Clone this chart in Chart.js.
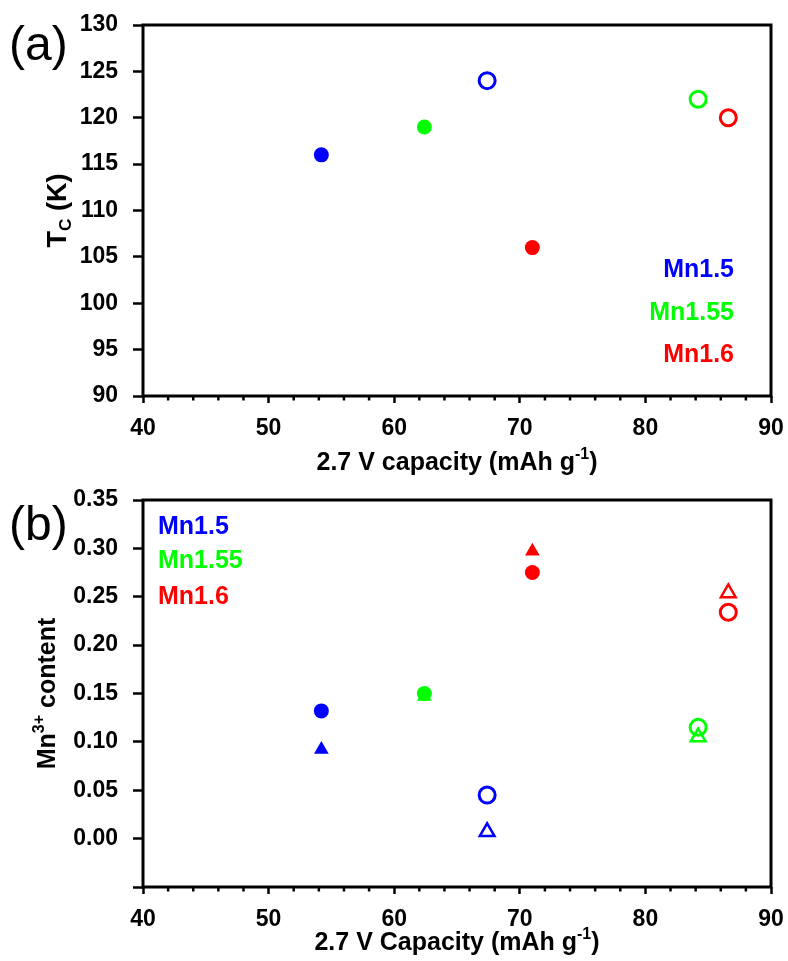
<!DOCTYPE html>
<html>
<head>
<meta charset="utf-8">
<script src="https://cdn.jsdelivr.net/npm/chart.js@4"></script>
<style>
  html, body { margin: 0; padding: 0; background: #fff; overflow: hidden; }
  #wrap { position: relative; width: 788px; height: 961px; overflow: hidden; }
  .box { position: absolute; left: 0; width: 797px; }
  #boxA { top: -10px; height: 490px; }
  #boxB { top: 465px; height: 496px; }
</style>
</head>
<body>
<div id="wrap">
  <div class="box" id="boxA"><canvas id="chartA"></canvas></div>
  <div class="box" id="boxB"><canvas id="chartB"></canvas></div>
</div>
<script>
const samples = ['Mn1.5', 'Mn1.55', 'Mn1.6'];
const colors = ['#0000ff', '#00ff00', '#ff0000'];

// 2.7 V capacity (mAh g-1)
const capFilled = [54.2, 62.4, 71.0];
const capOpen = [67.4, 84.2, 86.6];

// (a) Tc (K)
const tcFilled = [116, 119, 106];
const tcOpen = [124, 122, 120];

// (b) Mn3+ content
const mnCircleFilled = [0.132, 0.150, 0.275];
const mnTriFilled = [0.092, 0.147, 0.297];
const mnCircleOpen = [0.045, 0.115, 0.234];
const mnTriOpen = [0.007, 0.105, 0.254];

const FONT = '"Liberation Sans", Arial, sans-serif';

function pts(xs, ys) {
  return xs.map((x, i) => ({ x: x, y: ys[i] }));
}

function filledSet(xs, ys, style, r) {
  return {
    data: pts(xs, ys), showLine: false, pointStyle: style,
    pointRadius: r, pointBorderWidth: 0,
    pointBackgroundColor: colors, pointBorderColor: colors
  };
}

function openSet(xs, ys, style, r, bw) {
  return {
    data: pts(xs, ys), showLine: false, pointStyle: style,
    pointRadius: r, pointBorderWidth: bw,
    pointBackgroundColor: 'rgba(255,255,255,0)', pointBorderColor: colors
  };
}

// draws text with sub/superscript parts, centred on (x, y)
function richText(ctx, parts, x, y, size, rotate) {
  ctx.save();
  ctx.translate(x, y);
  if (rotate) ctx.rotate(-Math.PI / 2);
  ctx.textBaseline = 'middle';
  ctx.textAlign = 'left';
  ctx.fillStyle = '#000';
  let total = 0;
  parts.forEach(p => {
    ctx.font = 'bold ' + (p.s ? size * 0.64 : size) + 'px ' + FONT;
    p.w = ctx.measureText(p.t).width;
    total += p.w;
  });
  let cx = -total / 2;
  parts.forEach(p => {
    ctx.font = 'bold ' + (p.s ? size * 0.64 : size) + 'px ' + FONT;
    const dy = p.s === 'sup' ? -size * 0.32 : p.s === 'sub' ? size * 0.28 : 0;
    ctx.fillText(p.t, cx, dy);
    cx += p.w;
  });
  ctx.restore();
}

// o.top = page y of the canvas, so text can be placed in page pixels
const framePlugin = {
  id: 'frame',
  afterDraw(chart) {
    const ctx = chart.ctx;
    const a = chart.chartArea;
    const xs = chart.scales.x;
    const o = chart.options.plugins.frame;
    const off = -o.top;
    ctx.save();
    ctx.strokeStyle = '#000';
    // minor ticks on x
    ctx.lineWidth = 2.5;
    xs.ticks.forEach(t => {
      if (t.value % 10 !== 0) {
        const px = xs.getPixelForValue(t.value);
        ctx.beginPath();
        ctx.moveTo(px, a.bottom);
        ctx.lineTo(px, a.bottom + 4.5);
        ctx.stroke();
      }
    });
    ctx.lineWidth = 3;
    ctx.strokeRect(a.left, a.top, a.right - a.left, a.bottom - a.top);
    // panel letter
    ctx.fillStyle = '#000';
    ctx.font = '48px ' + FONT;
    ctx.textBaseline = 'middle';
    ctx.textAlign = 'left';
    ctx.fillText(o.letter, 9, o.letterY + off);
    // sample names
    ctx.font = 'bold 25px ' + FONT;
    ctx.textAlign = o.legendAlign;
    samples.forEach((s, i) => {
      ctx.fillStyle = colors[i];
      ctx.fillText(s, o.legendX, o.legendY[i] + off);
    });
    ctx.restore();
    const midY = (a.top + a.bottom) / 2;
    richText(ctx, o.yTitle, o.yTitleX, midY, o.yTitleSize, true);
    richText(ctx, o.xTitle, (a.left + a.right) / 2, o.xTitleY + off, 25, false);
  }
};

function baseOptions(cfg) {
  return {
    responsive: true,
    maintainAspectRatio: false,
    animation: false,
    layout: { padding: { left: 0, right: 26, top: 35, bottom: 0 } },
    plugins: { legend: { display: false }, tooltip: { enabled: false }, frame: cfg.frame },
    scales: {
      x: {
        type: 'linear', min: 40, max: 90,
        afterFit(s) { s.height = cfg.xHeight; },
        border: { display: false },
        grid: {
          drawOnChartArea: false, tickLength: 7, tickWidth: 2.5,
          tickColor: c => (c.tick && c.tick.value % 10 === 0) ? '#000' : 'rgba(0,0,0,0)'
        },
        ticks: {
          stepSize: 2, autoSkip: false, maxRotation: 0, padding: 12,
          color: '#000', font: { family: FONT, size: 23, weight: 'bold' },
          callback: v => (v % 10 === 0 ? v : '')
        }
      },
      y: {
        type: 'linear', min: cfg.yMin, max: cfg.yMax,
        afterFit(s) { s.width = 143; },
        border: { display: false },
        grid: { drawOnChartArea: false, tickLength: 10, tickWidth: 2.5, tickColor: '#000' },
        ticks: {
          stepSize: cfg.yStep, autoSkip: false, padding: 15,
          color: '#000', font: { family: FONT, size: 23, weight: 'bold' },
          callback: cfg.yFmt
        }
      }
    }
  };
}

new Chart(document.getElementById('chartA'), {
  type: 'scatter',
  data: {
    datasets: [
      filledSet(capFilled, tcFilled, 'circle', 7.5),
      openSet(capOpen, tcOpen, 'circle', 8, 3)
    ]
  },
  options: baseOptions({
    xHeight: 84, yMin: 90, yMax: 130, yStep: 5,
    yFmt: v => v,
    frame: {
      top: -10,
      letter: '(a)', letterY: 47,
      legendAlign: 'right', legendX: 734, legendY: [270, 313, 355],
      yTitle: [{ t: 'T' }, { t: 'C', s: 'sub' }, { t: ' (K)' }], yTitleX: 59, yTitleSize: 27,
      xTitle: [{ t: '2.7 V capacity (mAh g' }, { t: '-1', s: 'sup' }, { t: ')' }], xTitleY: 463
    }
  }),
  plugins: [framePlugin]
});

new Chart(document.getElementById('chartB'), {
  type: 'scatter',
  data: {
    datasets: [
      filledSet(capFilled, mnCircleFilled, 'circle', 7.5),
      filledSet(capFilled, mnTriFilled, 'triangle', 8.5),
      openSet(capOpen, mnCircleOpen, 'circle', 8, 3),
      openSet(capOpen, mnTriOpen, 'triangle', 8.5, 2.5)
    ]
  },
  options: baseOptions({
    xHeight: 74, yMin: -0.05, yMax: 0.35, yStep: 0.05,
    yFmt: v => (v < -0.001 ? '' : Math.abs(v).toFixed(2)),
    frame: {
      top: 465,
      letter: '(b)', letterY: 527,
      legendAlign: 'left', legendX: 158, legendY: [527, 561, 597],
      yTitle: [{ t: 'Mn' }, { t: '3+', s: 'sup' }, { t: ' content' }], yTitleX: 48, yTitleSize: 25,
      xTitle: [{ t: '2.7 V Capacity (mAh g' }, { t: '-1', s: 'sup' }, { t: ')' }], xTitleY: 943
    }
  }),
  plugins: [framePlugin]
});
</script>
</body>
</html>
